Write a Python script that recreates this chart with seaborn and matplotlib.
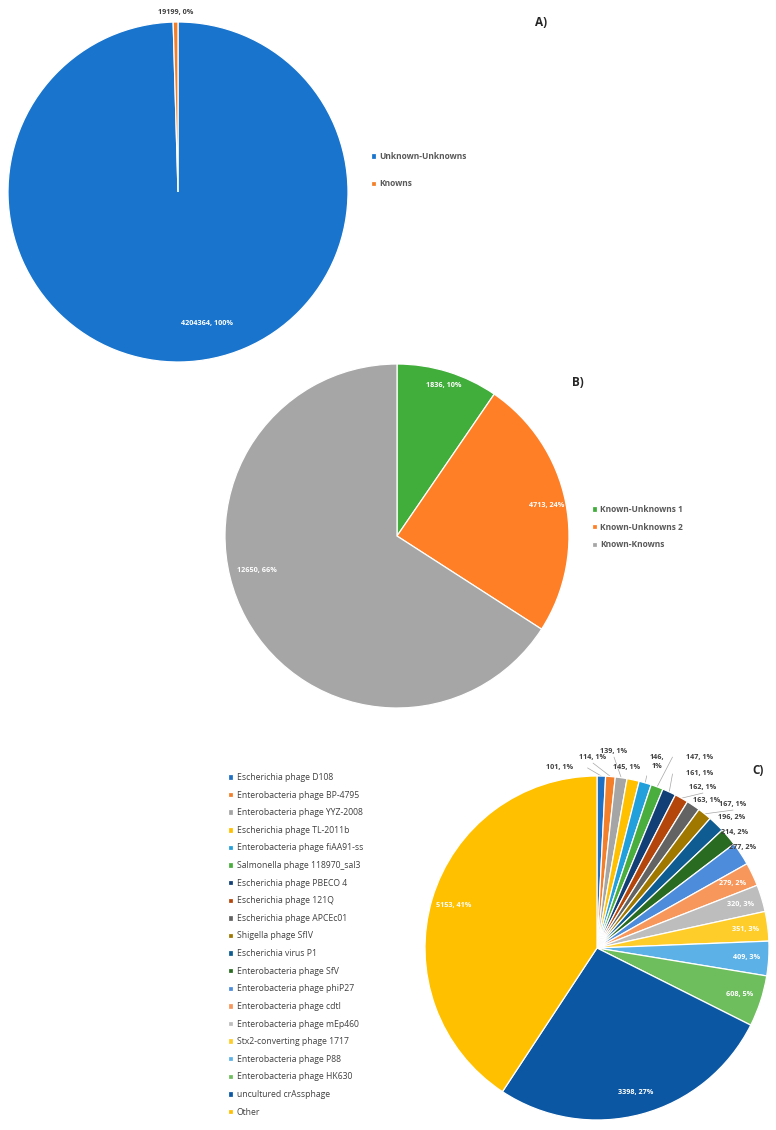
import matplotlib
matplotlib.use("Agg")
import matplotlib.pyplot as plt
import seaborn as sns
import numpy as np

sns.set_theme(style="white")
plt.rcParams['font.family'] = ['Open Sans', 'DejaVu Sans']

# ---- data ----
a_labels = ["Unknown-Unknowns", "Knowns"]
a_values = [4204364, 19199]
a_pcts = [100, 0]
a_colors = ["#1874CD", "#F47F2A"]

b_labels = ["Known-Unknowns 1", "Known-Unknowns 2", "Known-Knowns"]
b_values = [1836, 4713, 12650]
b_pcts = [10, 24, 66]
b_colors = ["#41AD3B", "#FF7F27", "#A6A6A6"]

c_labels = [
    "Escherichia phage D108", "Enterobacteria phage BP-4795", "Enterobacteria phage YYZ-2008",
    "Escherichia phage TL-2011b", "Enterobacteria phage fiAA91-ss", "Salmonella phage 118970_sal3",
    "Escherichia phage PBECO 4", "Escherichia phage 121Q", "Escherichia phage APCEc01",
    "Shigella phage SfIV", "Escherichia virus P1", "Enterobacteria phage SfV",
    "Enterobacteria phage phiP27", "Enterobacteria phage cdtI", "Enterobacteria phage mEp460",
    "Stx2-converting phage 1717", "Enterobacteria phage P88", "Enterobacteria phage HK630",
    "uncultured crAssphage", "Other",
]
c_values = [101, 114, 139, 145, 146, 147, 161, 162, 163, 167,
            196, 214, 277, 279, 320, 351, 409, 608, 3398, 5153]
c_pcts = [1, 1, 1, 1, 1, 1, 1, 1, 1, 1, 2, 2, 2, 2, 3, 3, 3, 5, 27, 41]
c_colors = ["#1F6FC5", "#F47F2A", "#A5A5A5", "#FFC000", "#22A0DB", "#4AAE3E",
            "#123F75", "#B4460C", "#636363", "#A07800", "#0E5C91", "#2A6B22",
            "#4D8BDB", "#F8975C", "#BDBDBD", "#FFCD29", "#5CB2E6", "#6FBE5E",
            "#0B57A4", "#FFC000"]

# label placement for the small slices of C (pie units, radius = 1)
c_outside = {
    0: (-0.215, 1.047), 1: (-0.023, 1.110), 2: (0.099, 1.145), 3: (0.174, 1.052),
    4: (0.349, 1.081), 5: (0.599, 1.110), 6: (0.599, 1.012), 7: (0.616, 0.936),
    8: (0.640, 0.860), 9: (0.791, 0.837), 10: (0.785, 0.756), 11: (0.802, 0.674),
    12: (0.849, 0.587),
}
c_leaders = {0, 1, 2, 4, 5, 6, 7, 9}

W, H = 776, 1130
fig = plt.figure(figsize=(W / 100, H / 100), dpi=100)
fig.patch.set_facecolor("white")

label_font = dict(fontsize=5.2, fontweight="bold")
wedge_style = dict(edgecolor="white", linewidth=0.9)
legend_bold = {"weight": "bold", "size": 6.0}


def pie_axes(cx, cy, r):
    ax = fig.add_axes([(cx - r) / W, (H - cy - r) / H, 2 * r / W, 2 * r / H])
    ax.axis("off")
    return ax


def mid_point(w, r):
    ang = np.deg2rad((w.theta1 + w.theta2) / 2)
    return r * np.cos(ang), r * np.sin(ang)


# ---- A ----
ax_a = pie_axes(178, 192, 170)
wa, _ = ax_a.pie(a_values, colors=a_colors, startangle=90, counterclock=False,
                 radius=1, wedgeprops=wedge_style)
ax_a.set_xlim(-1, 1); ax_a.set_ylim(-1, 1)
ax_a.text(0.171, -0.776, f"{a_values[0]}, {a_pcts[0]}%", color="white",
          ha="center", va="center", **label_font)
ax_a.text(-0.012, 1.053, f"{a_values[1]}, {a_pcts[1]}%", color="#404040",
          ha="center", va="center", **label_font)
fig.text(535 / W, 1 - 23 / H, "A)", fontsize=8.5, fontweight="bold", ha="left", va="center")
fig.legend(wa, a_labels, loc="upper left", bbox_to_anchor=(371 / W, 1 - 152 / H),
           frameon=False, handlelength=0.6, handleheight=0.6,
           handletextpad=0.4, labelspacing=2.2, borderpad=0, borderaxespad=0,
           labelcolor="#595959", prop=legend_bold)

# ---- B ----
ax_b = pie_axes(397, 536, 172)
wb, _ = ax_b.pie(b_values, colors=b_colors, startangle=90, counterclock=False,
                 radius=1, wedgeprops=wedge_style)
ax_b.set_xlim(-1, 1); ax_b.set_ylim(-1, 1)
b_pos = [mid_point(wb[0], 0.915), mid_point(wb[1], 0.885), (-0.814, -0.203)]
for v, p, (x, y) in zip(b_values, b_pcts, b_pos):
    ax_b.text(x, y, f"{v}, {p}%", color="white", ha="center", va="center", **label_font)
fig.text(572 / W, 1 - 383 / H, "B)", fontsize=8.5, fontweight="bold", ha="left", va="center")
fig.legend(wb, b_labels, loc="upper left", bbox_to_anchor=(592 / W, 1 - 505 / H),
           frameon=False, handlelength=0.6, handleheight=0.6,
           handletextpad=0.4, labelspacing=1.05, borderpad=0, borderaxespad=0,
           labelcolor="#595959", prop=legend_bold)

# ---- C ----
ax_c = pie_axes(597, 948, 172)
wc, _ = ax_c.pie(c_values, colors=c_colors, startangle=90, counterclock=False,
                 radius=1, wedgeprops=wedge_style)
ax_c.set_xlim(-1, 1); ax_c.set_ylim(-1, 1)
for i, (w, v, p) in enumerate(zip(wc, c_values, c_pcts)):
    text = f"{v}, {p}%"
    if i in c_outside:
        tx, ty = c_outside[i]
        ex, ey = mid_point(w, 1.0)
        if i == 4:
            text = f"{v},\n{p}%"
            lx, ly = tx - 0.06, ty - 0.08
        elif tx - 0.17 > ex:
            lx, ly = tx - 0.16, ty
        elif tx + 0.17 < ex:
            lx, ly = tx + 0.16, ty
        else:
            lx, ly = tx, ty - 0.035
        if i in c_leaders:
            ax_c.plot([ex, lx], [ey, ly], color="#A6A6A6", lw=0.5, clip_on=False, zorder=0)
        ax_c.text(tx, ty, text, color="#404040", ha="center", va="center",
                  linespacing=1.5, **label_font)
    else:
        x, y = mid_point(w, 0.87)
        ax_c.text(x, y, text, color="white", ha="center", va="center", **label_font)
fig.text(752 / W, 1 - 770 / H, "C)", fontsize=8.5, fontweight="bold", ha="left", va="center")
fig.legend(wc, c_labels, loc="upper left", bbox_to_anchor=(228 / W, 1 - 773 / H),
           frameon=False, handlelength=0.6, handleheight=0.6,
           handletextpad=0.4, labelspacing=1.0, borderpad=0, borderaxespad=0,
           labelcolor="#404040", prop={"size": 6.2})

fig.savefig("out.png", dpi=100, facecolor="white")
